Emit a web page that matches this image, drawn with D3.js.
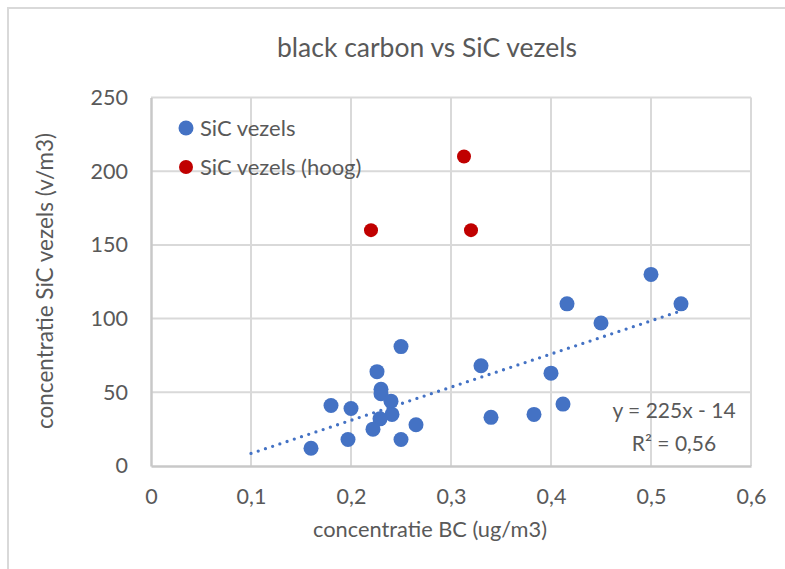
<!DOCTYPE html>
<html>
<head>
<meta charset="utf-8">
<script src="https://cdn.jsdelivr.net/npm/d3@7"></script>
<style>
  html, body { margin: 0; padding: 0; background: #fff; }
  svg { display: block; font-family: Lato, "Open Sans", sans-serif; }
</style>
</head>
<body>
<svg id="chart" width="785" height="569"></svg>
<script>
// Black carbon (ug/m3) against SiC fibre concentration (v/m3)
const bcValues = [0.16, 0.18, 0.20, 0.197, 0.25, 0.226, 0.23, 0.23, 0.24, 0.241, 0.229, 0.222,
                  0.265, 0.25, 0.33, 0.40, 0.416, 0.45, 0.50, 0.53, 0.34, 0.383, 0.412];
const sicValues = [12, 41, 39, 18, 81, 64, 52, 49, 44, 35, 32, 25,
                   28, 18, 68, 63, 110, 97, 130, 110, 33, 35, 42];

const bcHigh = [0.22, 0.32, 0.313];
const sicHigh = [160, 160, 210];

const xTicks = [0, 0.1, 0.2, 0.3, 0.4, 0.5, 0.6];
const yTicks = [0, 50, 100, 150, 200, 250];

// Linear trendline as printed on the chart: y = 225x - 14, R² = 0,56
const trendSlope = 225;
const trendIntercept = -14;
const trendRange = [0.1, 0.53];
const trendLabels = ["y = 225x - 14", "R² = 0,56"];

const seriesNames = ["SiC vezels", "SiC vezels (hoog)"];
const title = "black carbon vs SiC vezels";
const xTitle = "concentratie BC (ug/m3)";
const yTitle = "concentratie SiC vezels (v/m3)";

const blue = "#4472C4", red = "#C00000", grid = "#D9D9D9", textCol = "#595959";

const svg = d3.select("#chart");
const plot = { left: 151, right: 751, top: 97.5, bottom: 466 };

const x = d3.scaleLinear().domain([0, 0.6]).range([plot.left, plot.right]);
const y = d3.scaleLinear().domain([0, 250]).range([plot.bottom, plot.top]);

const nl = d3.formatLocale({ decimal: ",", thousands: ".", grouping: [3], currency: ["€", ""] });
const fmtX = d => d === 0 ? "0" : nl.format(".1f")(d);

// chart frame
svg.append("rect")
  .attr("x", 8).attr("y", 8).attr("width", 800).attr("height", 600)
  .attr("fill", "none").attr("stroke", grid).attr("stroke-width", 2);

// title
svg.append("text")
  .attr("x", 427).attr("y", 48).attr("dy", "0.35em")
  .attr("text-anchor", "middle").attr("fill", textCol)
  .attr("font-size", 26.5).text(title);

// gridlines
svg.append("g").selectAll("line").data(xTicks.filter(d => d > 0)).join("line")
  .attr("x1", d => x(d)).attr("x2", d => x(d))
  .attr("y1", plot.top).attr("y2", plot.bottom)
  .attr("stroke", grid).attr("stroke-width", 2);
svg.append("g").selectAll("line").data(yTicks.filter(d => d > 0)).join("line")
  .attr("x1", plot.left).attr("x2", plot.right)
  .attr("y1", d => y(d)).attr("y2", d => y(d))
  .attr("stroke", grid).attr("stroke-width", 2);

// axes
const xAxis = svg.append("g")
  .attr("transform", `translate(0,${plot.bottom})`)
  .call(d3.axisBottom(x).tickValues(xTicks).tickFormat(fmtX).tickSize(0).tickPadding(23));
const yAxis = svg.append("g")
  .attr("transform", `translate(${plot.left},0)`)
  .call(d3.axisLeft(y).tickValues(yTicks).tickSize(0).tickPadding(23));
[xAxis, yAxis].forEach(g => {
  g.select(".domain").attr("stroke", "#C8C8C8").attr("stroke-width", 2.5);
  g.selectAll("text").attr("fill", textCol).attr("font-size", 21.5)
    .attr("font-family", "Lato, 'Open Sans', sans-serif");
});

// axis titles
svg.append("text")
  .attr("x", 430).attr("y", 529).attr("dy", "0.35em")
  .attr("text-anchor", "middle").attr("fill", textCol)
  .attr("font-size", 21.8).text(xTitle);
svg.append("text")
  .attr("transform", "translate(45,281) rotate(-90)")
  .attr("dy", "0.35em")
  .attr("text-anchor", "middle").attr("fill", textCol)
  .attr("font-size", 22.5).text(yTitle);

// trendline
const trend = d3.line().x(d => x(d)).y(d => y(trendSlope * d + trendIntercept));
svg.append("path")
  .datum(trendRange)
  .attr("d", trend)
  .attr("fill", "none").attr("stroke", blue)
  .attr("stroke-width", 3.3).attr("stroke-linecap", "round")
  .attr("stroke-dasharray", "0 7.6");

// points
svg.append("g").selectAll("circle").data(d3.zip(bcValues, sicValues)).join("circle")
  .attr("cx", d => x(d[0])).attr("cy", d => y(d[1]))
  .attr("r", 7.5).attr("fill", blue);
svg.append("g").selectAll("circle").data(d3.zip(bcHigh, sicHigh)).join("circle")
  .attr("cx", d => x(d[0])).attr("cy", d => y(d[1]))
  .attr("r", 7).attr("fill", red);

// trendline label
const eq = svg.append("text")
  .attr("text-anchor", "middle").attr("fill", textCol).attr("font-size", 21);
eq.selectAll("tspan").data(trendLabels).join("tspan")
  .attr("x", 674).attr("y", (d, i) => 411 + i * 33).attr("dy", "0.35em")
  .text(d => d);

// legend
const legend = svg.append("g");
const legendItems = legend.selectAll("g").data(seriesNames).join("g")
  .attr("transform", (d, i) => `translate(186,${128 + i * 39})`);
legendItems.append("circle")
  .attr("r", (d, i) => i === 0 ? 7.5 : 7)
  .attr("fill", (d, i) => i === 0 ? blue : red);
legendItems.append("text")
  .attr("x", 14).attr("dy", "0.35em")
  .attr("fill", textCol).attr("font-size", 22)
  .text(d => d);
</script>
</body>
</html>
